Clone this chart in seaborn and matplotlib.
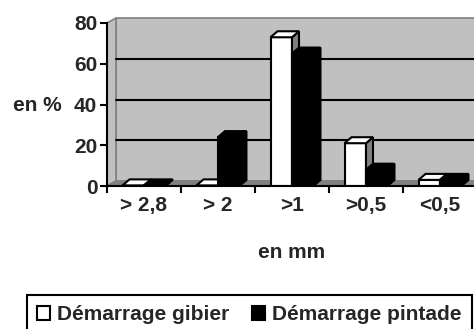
import numpy as np
import pandas as pd
import matplotlib
matplotlib.use("Agg")
import matplotlib.pyplot as plt
from matplotlib.patches import Polygon, Patch
import seaborn as sns

# Particle size distribution of two starter feeds
categories = ["> 2,8", "> 2", ">1", ">0,5", "<0,5"]
gibier = [0.3, 0.3, 73, 21, 3]
pintade = [0.3, 24, 65, 8, 3]
series = ["Démarrage gibier", "Démarrage pintade"]
y_ticks = [0, 20, 40, 60, 80]

df = pd.DataFrame({
    "taille": categories * 2,
    "pct": gibier + pintade,
    "serie": [series[0]] * len(categories) + [series[1]] * len(categories),
})

sns.set_style("white")
plt.rcParams["font.family"] = ["Liberation Sans", "DejaVu Sans"]
plt.rcParams["font.weight"] = "bold"
plt.rcParams["axes.labelweight"] = "bold"

W, H = 474, 329
fig = plt.figure(figsize=(W / 100, H / 100), dpi=100)
ax = fig.add_axes([107 / W, 1 - 186 / H, 370 / W, 163 / H])
ax.patch.set_visible(False)

sns.barplot(data=df, x="taille", y="pct", hue="serie", palette=["white", "black"],
            width=0.58, edgecolor="black", linewidth=1.5, saturation=1,
            legend=False, ax=ax)
ax.set_xlim(-0.5, len(categories) - 0.5)
ax.set_ylim(y_ticks[0], y_ticks[-1])

x_lo, x_hi = -0.5, len(categories) - 0.5
y_top = y_ticks[-1]


def shifted(x, y, dx, dy):
    """Move a data point by (dx, dy) pixels and return it in data units."""
    px = ax.transData.transform((x, y))
    return tuple(ax.transData.inverted().transform((px[0] + dx, px[1] + dy)))


WALL = (9, 5)   # depth of the chart box
DEPTH = (7, 6)  # depth of each column
wall_fc, wall_ec = "#c0c0c0", "#808080"

# back wall, side wall and floor of the 3-D box
back = [shifted(x_lo, 0, *WALL), shifted(x_hi, 0, *WALL),
        shifted(x_hi, y_top, *WALL), shifted(x_lo, y_top, *WALL)]
side = [(x_lo, 0), (x_lo, y_top), shifted(x_lo, y_top, *WALL), shifted(x_lo, 0, *WALL)]
floor = [(x_lo, 0), (x_hi, 0), shifted(x_hi, 0, *WALL), shifted(x_lo, 0, *WALL)]
for pts, fc, z in [(back, wall_fc, 0.1), (side, wall_fc, 0.15), (floor, "#808080", 0.2)]:
    ax.add_patch(Polygon(pts, closed=True, facecolor=fc, edgecolor=wall_ec,
                         linewidth=1.2, zorder=z, clip_on=False))

# gridlines on the back wall
for v in y_ticks[1:-1]:
    a = shifted(x_lo, v, *WALL)
    b = shifted(x_hi, v, *WALL)
    ax.plot([a[0], b[0]], [a[1], b[1]], color="black", linewidth=1.5,
            zorder=0.3, clip_on=False)

# top and side faces of every column
side_colors = ["#808080", "black"]
top_colors = ["white", "black"]
for j, cont in enumerate(ax.containers):
    for bar in cont:
        bar.set_zorder(2 + j)
        x0, w, h = bar.get_x(), bar.get_width(), bar.get_height()
        top = [(x0, h), (x0 + w, h), shifted(x0 + w, h, *DEPTH), shifted(x0, h, *DEPTH)]
        sd = [(x0 + w, 0), (x0 + w, h), shifted(x0 + w, h, *DEPTH), shifted(x0 + w, 0, *DEPTH)]
        ax.add_patch(Polygon(sd, closed=True, facecolor=side_colors[j], edgecolor="black",
                             linewidth=1.5, zorder=2 + j, clip_on=False))
        ax.add_patch(Polygon(top, closed=True, facecolor=top_colors[j], edgecolor="black",
                             linewidth=1.5, zorder=2 + j, clip_on=False))

# axes
for s in ["top", "right"]:
    ax.spines[s].set_visible(False)
for s in ["left", "bottom"]:
    ax.spines[s].set_color("black")
    ax.spines[s].set_linewidth(1.5)
    ax.spines[s].set_zorder(5)

ax.set_yticks(y_ticks)
ax.tick_params(axis="y", left=True, length=5, width=1.5, direction="out",
               pad=2, labelsize=15, color="black")
ax.set_xticks(range(len(categories)))
ax.set_xticklabels(categories)
ax.set_xticks(np.arange(x_lo, x_hi + 0.01, 1), minor=True)
ax.tick_params(axis="x", which="major", bottom=True, length=0, pad=7, labelsize=15)
ax.tick_params(axis="x", which="minor", bottom=True, length=5, width=1.5,
               direction="out", color="black")
for lbl in ax.get_xticklabels() + ax.get_yticklabels():
    lbl.set_fontweight("bold")

ax.set_xlabel("en mm", fontsize=15, fontweight="bold")
ax.xaxis.label.set_va("center")
ax.xaxis.set_label_coords(0.5, -0.405)
ax.set_ylabel("en %", fontsize=15, fontweight="bold", rotation=0)
ax.yaxis.label.set_va("center")
ax.yaxis.label.set_ha("center")
ax.yaxis.set_label_coords(-0.189, 0.491)

handles = [Patch(facecolor="white", edgecolor="black", linewidth=1.5),
           Patch(facecolor="black", edgecolor="black", linewidth=1.5)]
leg = fig.legend(handles, series, loc="upper left",
                 bbox_to_anchor=(27 / W, 1 - 295 / H), ncol=2,
                 prop={"size": 15, "weight": "bold"}, frameon=True, fancybox=False,
                 edgecolor="black", handlelength=0.6, handleheight=0.6,
                 handletextpad=0.35, columnspacing=1.1, borderpad=0.5,
                 borderaxespad=0)
leg.get_frame().set_linewidth(1.5)
leg.get_frame().set_alpha(1)

fig.savefig("out.png", dpi=100)
